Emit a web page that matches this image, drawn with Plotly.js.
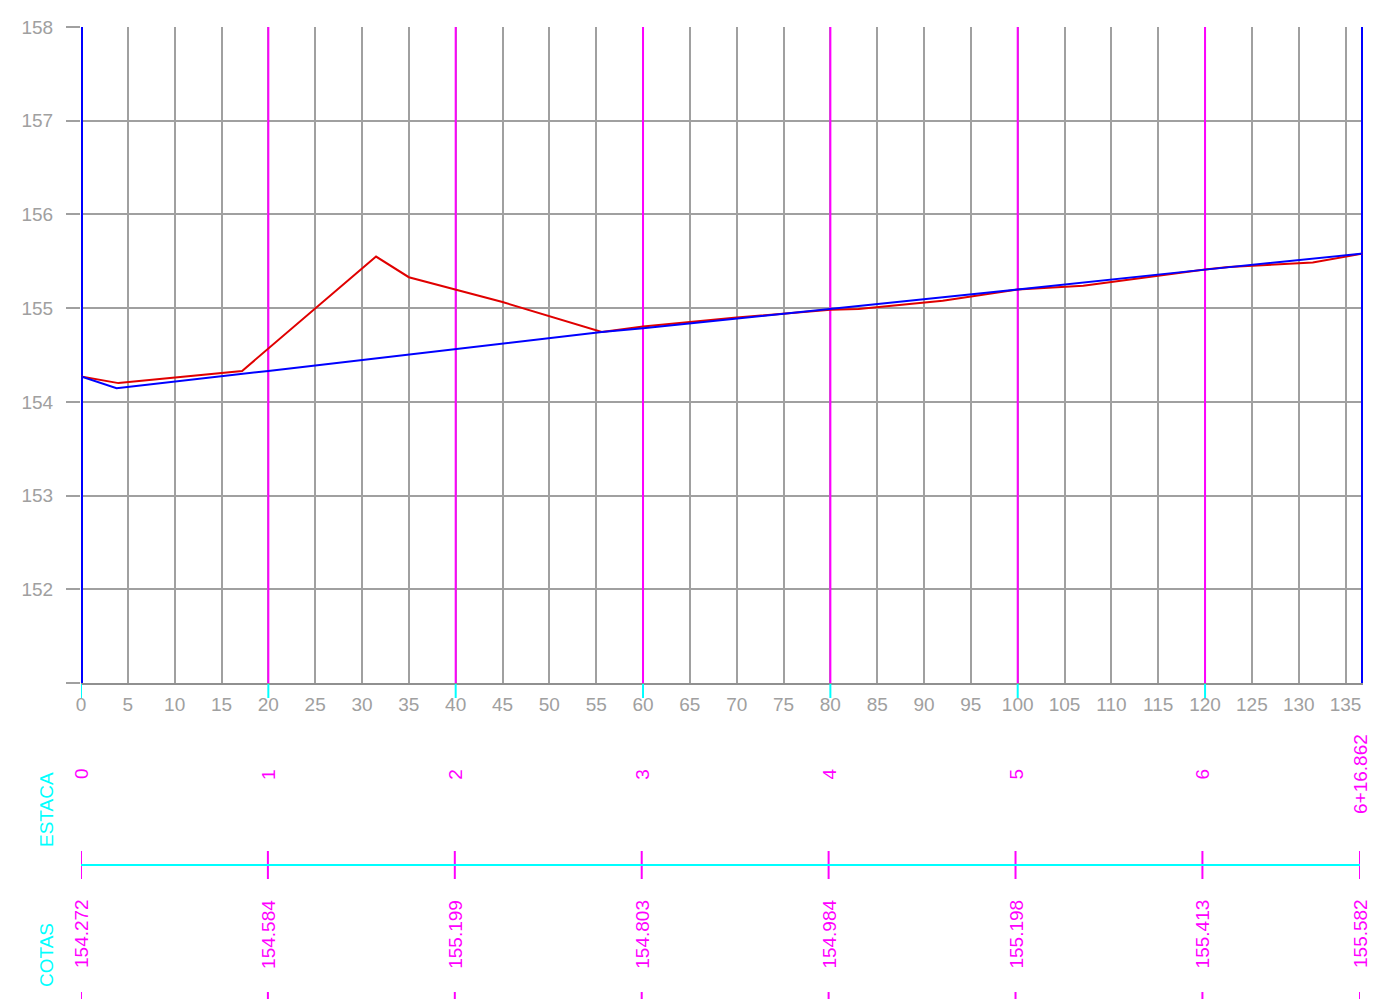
<!DOCTYPE html>
<html>
<head>
<meta charset="utf-8">
<script src="https://cdn.plot.ly/plotly-3.0.1.min.js"></script>
<style>html,body{margin:0;padding:0;background:#fff;}#chart{width:1375px;height:999px;}</style>
</head>
<body>
<div id="chart"></div>
<script>
// ---- data ----
const stakeX = [0, 20, 40, 60, 80, 100, 120, 136.862];
const stakeLabels = ['0', '1', '2', '3', '4', '5', '6', '6+16.862'];
const cotas = ['154.272', '154.584', '155.199', '154.803', '154.984', '155.198', '155.413', '155.582'];

const terrainX = [0, 4, 17.2, 31.5, 35, 40, 45, 55.6, 60, 70, 80, 83, 88, 92, 100, 107, 120, 122.5, 131.5, 136.862];
const terrainY = [154.272, 154.20, 154.33, 155.55, 155.33, 155.199, 155.065, 154.745, 154.803, 154.90, 154.984, 154.99, 155.04, 155.08, 155.198, 155.24, 155.413, 155.44, 155.486, 155.582];

const gradeX = [0, 3.8, 20, 40, 55.6, 60, 80, 100, 120, 136.862];
const gradeY = [154.272, 154.146, 154.33, 154.565, 154.745, 154.785, 154.99, 155.198, 155.411, 155.582];

const xTicks = [0,5,10,15,20,25,30,35,40,45,50,55,60,65,70,75,80,85,90,95,100,105,110,115,120,125,130,135];
const yTicks = [151,152,153,154,155,156,157,158];
const yTickText = ['', '152', '153', '154', '155', '156', '157', '158'];
const yRange = [151, 158];

// ---- styling helpers ----
const H = 999;
const MT = 27;
const plotH = H - MT;
const py = p => (H - p) / plotH;   // pixel row -> paper y
const GRAY = '#a0a0a0';
const MAG = '#ff00ff';
const CYAN = '#00ffff';
const FONT = 'Liberation Sans, Arial, sans-serif';

const xMax = stakeX[stakeX.length - 1];
const lastIdx = stakeX.length - 1;

const shapes = [];
const annotations = [];

// vertical stake lines as traces (so they sit above the grid)
const magX = [], magY = [], endX = [], endY = [];
stakeX.forEach((x, i) => {
  const isEnd = (i === 0 || i === lastIdx);
  const tx = isEnd ? endX : magX, ty = isEnd ? endY : magY;
  tx.push(x, x, null); ty.push(yRange[0], yRange[1], null);
});

stakeX.forEach((x, i) => {
  const isEnd = (i === lastIdx);
  if (!isEnd) {
    shapes.push({type: 'line', xref: 'x', yref: 'paper', x0: x, x1: x, y0: py(684), y1: py(698),
      line: {color: CYAN, width: 2}, layer: 'above'});
  }
  shapes.push({type: 'line', xref: 'x2', yref: 'paper', x0: x, x1: x, y0: py(851), y1: py(879),
    line: {color: MAG, width: 2}});
  shapes.push({type: 'line', xref: 'x2', yref: 'paper', x0: x, x1: x, y0: py(992), y1: py(999),
    line: {color: MAG, width: 2}});
  annotations.push({xref: 'x2', yref: 'paper', x: x, y: py(774), text: stakeLabels[i], showarrow: false,
    textangle: -90, xanchor: 'center', yanchor: 'middle', font: {family: FONT, size: 19, color: MAG}});
  annotations.push({xref: 'x2', yref: 'paper', x: x, y: py(934), text: cotas[i], showarrow: false,
    textangle: -90, xanchor: 'center', yanchor: 'middle', font: {family: FONT, size: 19, color: MAG}});
});

shapes.push({type: 'line', xref: 'x2', yref: 'paper', x0: stakeX[0], x1: xMax, y0: py(865), y1: py(865),
  line: {color: CYAN, width: 2}});

annotations.push({xref: 'paper', yref: 'paper', x: (46 - 81) / 1282, y: py(810), text: 'ESTACA', showarrow: false,
  textangle: -90, xanchor: 'center', yanchor: 'middle', font: {family: FONT, size: 19, color: CYAN}});
annotations.push({xref: 'paper', yref: 'paper', x: (46 - 81) / 1282, y: py(955), text: 'COTAS', showarrow: false,
  textangle: -90, xanchor: 'center', yanchor: 'middle', font: {family: FONT, size: 19, color: CYAN}});

const traces = [
  {x: magX, y: magY, type: 'scatter', mode: 'lines', line: {color: MAG, width: 2}, hoverinfo: 'skip'},
  {x: endX, y: endY, type: 'scatter', mode: 'lines', line: {color: '#0000ff', width: 4}, hoverinfo: 'skip'},
  {x: terrainX, y: terrainY, type: 'scatter', mode: 'lines', line: {color: '#e00000', width: 2}, hoverinfo: 'skip'},
  {x: gradeX, y: gradeY, type: 'scatter', mode: 'lines', line: {color: '#0000ff', width: 2}, hoverinfo: 'skip'}
];

const layout = {
  width: 1375, height: 999,
  margin: {l: 81, r: 12, t: MT, b: 0, pad: 0},
  paper_bgcolor: '#ffffff', plot_bgcolor: '#ffffff',
  showlegend: false,
  xaxis: {
    range: [0, xMax], domain: [0, 1], anchor: 'y',
    tickvals: xTicks, ticktext: xTicks.map(String),
    showgrid: true, gridcolor: GRAY, gridwidth: 2,
    showline: true, linecolor: '#909090', linewidth: 2,
    ticks: '', ticklabelstandoff: 3,
    tickfont: {family: FONT, size: 19, color: GRAY},
    zeroline: false, fixedrange: true
  },
  yaxis: {
    range: yRange, domain: [py(683), 1], anchor: 'x',
    tickvals: yTicks, ticktext: yTickText,
    showgrid: true, gridcolor: GRAY, gridwidth: 2,
    showline: false,
    ticks: 'outside', ticklen: 14, tickwidth: 2, tickcolor: GRAY,
    ticklabelstandoff: 9,
    tickfont: {family: FONT, size: 19, color: GRAY},
    zeroline: false, fixedrange: true
  },
  xaxis2: {
    range: [0, xMax], domain: [0, (1360 - 81) / 1282], anchor: 'y2',
    visible: false, fixedrange: true
  },
  yaxis2: {
    range: [0, 1], domain: [0, 0.05], anchor: 'x2',
    visible: false, fixedrange: true
  },
  shapes: shapes,
  annotations: annotations
};

Plotly.newPlot('chart', traces, layout, {displayModeBar: false, staticPlot: true});
</script>
</body>
</html>
